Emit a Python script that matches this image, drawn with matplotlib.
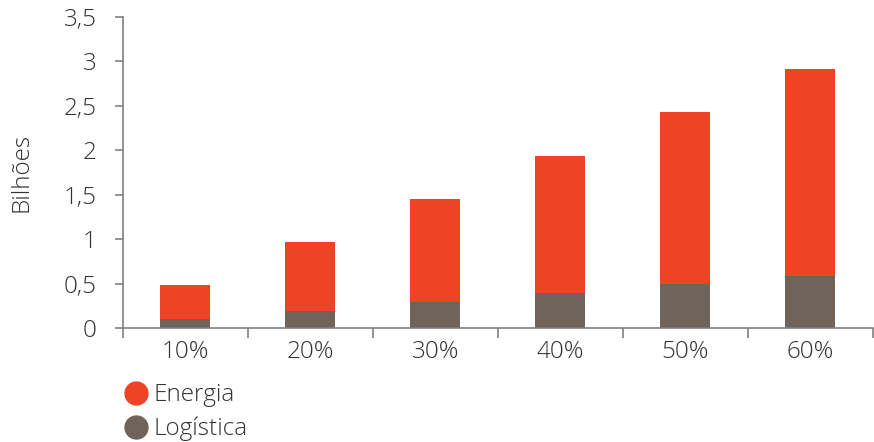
import numpy as np
import matplotlib.pyplot as plt
from matplotlib.lines import Line2D

plt.rcParams['font.family'] = ['Open Sans', 'DejaVu Sans']

# Data
categories = ['10%', '20%', '30%', '40%', '50%', '60%']
logistica = [0.097, 0.194, 0.29, 0.39, 0.49, 0.59]
energia = [0.387, 0.774, 1.16, 1.55, 1.94, 2.33]
yticks = [0, 0.5, 1, 1.5, 2, 2.5, 3, 3.5]
ytick_labels = ['0', '0,5', '1', '1,5', '2', '2,5', '3', '3,5']

red = '#EE4425'
brown = '#6F635A'
axis_col = '#808080'
text_col = '#333333'
fs = 17.5

fig = plt.figure(figsize=(8.74, 4.42), dpi=100)
ax = fig.add_axes([0.1407, 0.258, 0.858, 0.7035])

x = np.arange(len(categories))
ax.bar(x, logistica, width=0.4, color=brown, zorder=2)
ax.bar(x, energia, width=0.4, bottom=logistica, color=red, zorder=2)

ax.set_xlim(-0.5, len(categories) - 0.5)
ax.set_ylim(0, 3.5)

for s in ['top', 'right']:
    ax.spines[s].set_visible(False)
for s in ['left', 'bottom']:
    ax.spines[s].set_color(axis_col)
    ax.spines[s].set_linewidth(1.2)

ax.set_yticks(yticks)
ax.set_yticklabels(ytick_labels)
ax.set_xticks(x)
ax.set_xticklabels(categories)
ax.set_xticks(np.arange(len(categories) + 1) - 0.5, minor=True)
ax.tick_params(axis='x', which='major', length=0, pad=9)
ax.tick_params(axis='x', which='minor', length=7, color=axis_col, width=1.2)
ax.tick_params(axis='y', length=6, color=axis_col, width=1.2, pad=13)
ax.tick_params(labelsize=fs, labelcolor=text_col)
for t in ax.get_xticklabels() + ax.get_yticklabels():
    t.set_fontweight('light')

ax.set_ylabel('Bilhões', fontsize=fs, color=text_col, fontweight='light', labelpad=22)

handles = [
    Line2D([], [], marker='o', linestyle='none', markersize=16.5, color=red),
    Line2D([], [], marker='o', linestyle='none', markersize=16.5, color=brown),
]
leg = fig.legend(handles, ['Energia', 'Logística'], loc='upper left',
                 bbox_to_anchor=(0.128, 0.16), frameon=False, fontsize=fs,
                 handletextpad=0.2, labelspacing=0.38, borderpad=0,
                 handlelength=1.0)
for t in leg.get_texts():
    t.set_color(text_col)
    t.set_fontweight('light')

fig.savefig('out.png', dpi=100)
